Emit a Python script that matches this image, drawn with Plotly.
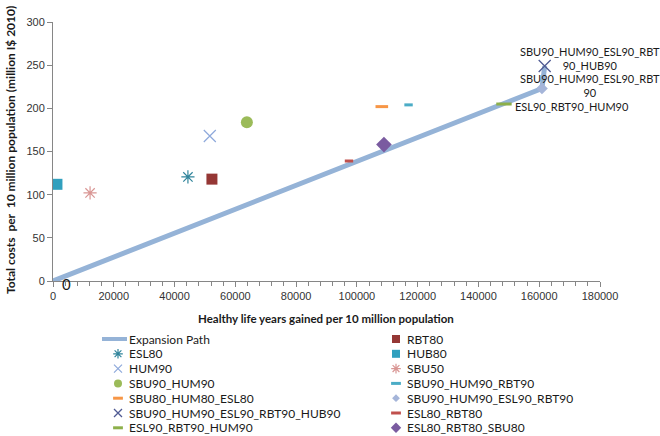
import plotly.graph_objects as go

W, H = 660, 436

# ---------------- data ----------------
path_x = [0, 148400, 160900, 161800]
path_y = [0, 205, 223, 249]

names = ["ESL80", "HUM90", "SBU90_HUM90", "SBU80_HUM80_ESL80",
         "SBU90_HUM90_ESL90_RBT90_HUB90", "ESL90_RBT90_HUM90",
         "RBT80", "HUB80", "SBU50", "SBU90_HUM90_RBT90",
         "SBU90_HUM90_ESL90_RBT90", "ESL80_RBT80", "ESL80_RBT80_SBU80"]
x_vals = [44400, 51600, 63800, 108200, 161800, 148400,
          52300, 1300, 12200, 117000, 160900, 97400, 108900]
y_vals = [120.5, 168, 184, 202, 249, 205,
          118, 112, 102, 204, 223, 139, 158]

x_ticks = [0, 20000, 40000, 60000, 80000, 100000, 120000, 140000, 160000, 180000]
y_ticks = [0, 50, 100, 150, 200, 250, 300]

# ---------------- styles ----------------
styles = {
    "ESL80": dict(symbol="asterisk-open", color="#31859C", size=11, lw=1.2),
    "HUM90": dict(symbol="x-thin-open", color="#8EA9DB", size=12, lw=1.2),
    "SBU90_HUM90": dict(symbol="circle", color="#9BBB59", size=12, lw=0),
    "SBU80_HUM80_ESL80": dict(symbol="line-ew-open", color="#F79646", size=9, lw=3),
    "SBU90_HUM90_ESL90_RBT90_HUB90": dict(symbol="x-thin-open", color="#4F5A93", size=12, lw=1.3),
    "ESL90_RBT90_HUM90": dict(symbol="line-ew-open", color="#8DB04A", size=11, lw=3),
    "RBT80": dict(symbol="square", color="#953735", size=11, lw=0),
    "HUB80": dict(symbol="square", color="#31A0BE", size=11, lw=0),
    "SBU50": dict(symbol="asterisk-open", color="#D99694", size=11, lw=1.2),
    "SBU90_HUM90_RBT90": dict(symbol="line-ew-open", color="#4BACC6", size=6, lw=3),
    "SBU90_HUM90_ESL90_RBT90": dict(symbol="diamond", color="#A5B5D9", size=9, lw=0),
    "ESL80_RBT80": dict(symbol="line-ew-open", color="#C0504D", size=6, lw=3),
    "ESL80_RBT80_SBU80": dict(symbol="diamond", color="#7A5BA0", size=12, lw=0),
}

FONT = "Lato, Liberation Sans, sans-serif"
TICKFONT = "Liberation Sans, Arial, sans-serif"
TXT = "#1a1a1a"
AXC = "#868686"

# plot rectangle in pixels
PL, PR, PT, PB = 53, 600, 22, 281

fig = go.Figure()

fig.add_trace(go.Scatter(x=path_x, y=path_y, mode="lines",
                         line=dict(color="#95B3D7", width=5),
                         name="Expansion Path", showlegend=False,
                         xaxis="x", yaxis="y"))

for n, xv, yv in zip(names, x_vals, y_vals):
    s = styles[n]
    fig.add_trace(go.Scatter(
        x=[xv], y=[yv], mode="markers", name=n, showlegend=False,
        marker=dict(symbol=s["symbol"], size=s["size"], color=s["color"],
                    line=dict(color=s["color"], width=s["lw"])),
        xaxis="x", yaxis="y"))

# ---------------- custom legend (two columns) ----------------
left_col = ["Expansion Path", "ESL80", "HUM90", "SBU90_HUM90", "SBU80_HUM80_ESL80",
            "SBU90_HUM90_ESL90_RBT90_HUB90", "ESL90_RBT90_HUM90"]
right_col = ["RBT80", "HUB80", "SBU50", "SBU90_HUM90_RBT90",
             "SBU90_HUM90_ESL90_RBT90", "ESL80_RBT80", "ESL80_RBT80_SBU80"]
row0, row_h = 339, 14.8
LEG_TOP = 326
annotations = []
for col, (entries, mx, tx) in enumerate([(left_col, 118, 127), (right_col, 396, 405)]):
    for i, n in enumerate(entries):
        yy = row0 + i * row_h
        if n == "Expansion Path":
            fig.add_trace(go.Scatter(x=[102, 127], y=[yy, yy], mode="lines",
                                     line=dict(color="#95B3D7", width=4),
                                     showlegend=False, hoverinfo="skip",
                                     xaxis="x2", yaxis="y2"))
        else:
            s = styles[n]
            sz = max(5, min(8, s["size"] - 3)) if "line" not in s["symbol"] else 7
            fig.add_trace(go.Scatter(x=[mx], y=[yy], mode="markers",
                                     marker=dict(symbol=s["symbol"], size=sz, color=s["color"],
                                                 line=dict(color=s["color"], width=max(s["lw"], 1) if s["lw"] else 0)),
                                     showlegend=False, hoverinfo="skip",
                                     xaxis="x2", yaxis="y2"))
        annotations.append(dict(x=tx, y=yy, xref="x2", yref="y2", text=n,
                                showarrow=False, xanchor="left", yanchor="middle",
                                font=dict(family=FONT, size=12, color=TXT)))

# ---------------- data labels ----------------
annotations += [
    dict(x=path_x[0], y=path_y[0], xref="x", yref="y", text="0", showarrow=False,
         xshift=13, yshift=-3, font=dict(family=FONT, size=15, color=TXT)),
    dict(x=x_vals[4], y=y_vals[4], xref="x", yref="y",
         text="SBU90_HUM90_ESL90_RBT<br>90_HUB90", showarrow=False,
         xshift=45, yshift=8, align="center",
         font=dict(family=FONT, size=11, color=TXT)),
    dict(x=x_vals[10], y=y_vals[10], xref="x", yref="y",
         text="SBU90_HUM90_ESL90_RBT<br>90", showarrow=False,
         xshift=48, yshift=3, align="center",
         font=dict(family=FONT, size=11, color=TXT)),
    dict(x=x_vals[5], y=y_vals[5], xref="x", yref="y",
         text="ESL90_RBT90_HUM90", showarrow=False, xanchor="left",
         xshift=9, yshift=-2,
         font=dict(family=FONT, size=11, color=TXT)),
    # axis titles
    dict(x=326 / W, y=1 - 318 / H, xref="paper", yref="paper",
         text="<b>Healthy life years gained per 10 million population</b>",
         showarrow=False, xanchor="center", yanchor="middle",
         font=dict(family=FONT, size=11.5, color=TXT)),
    dict(x=10 / W, y=1 - 150 / H, xref="paper", yref="paper", textangle=-90,
         text="<b>Total costs  per  10 million population (million I$ 2010)</b>",
         showarrow=False, xanchor="center", yanchor="middle",
         font=dict(family=FONT, size=12, color=TXT)),
]

fig.update_layout(
    width=W, height=H,
    margin=dict(l=0, r=0, t=0, b=0),
    paper_bgcolor="white", plot_bgcolor="rgba(0,0,0,0)",
    showlegend=False,
    xaxis=dict(domain=[PL / W, PR / W], range=[0, 180000], tickvals=x_ticks,
               ticktext=[str(v) for v in x_ticks],
               showgrid=False, zeroline=False, showline=True, linecolor=AXC, linewidth=1,
               ticks="outside", ticklen=5, tickcolor=AXC,
               minor=dict(dtick=4000, ticks="outside", ticklen=4, tickcolor=AXC, showgrid=False),
               tickfont=dict(family=TICKFONT, size=11, color="#333333"),
               automargin=False, fixedrange=True),
    yaxis=dict(domain=[1 - PB / H, 1 - PT / H], range=[0, 300], tickvals=y_ticks,
               showgrid=False, zeroline=False, showline=True, linecolor=AXC, linewidth=1,
               ticks="outside", ticklen=5, tickcolor=AXC,
               tickfont=dict(family=TICKFONT, size=11, color="#333333"),
               automargin=False, fixedrange=True),
    xaxis2=dict(domain=[0, 1], range=[0, W], visible=False, fixedrange=True, anchor="y2"),
    yaxis2=dict(domain=[0, 1 - LEG_TOP / H], range=[H, LEG_TOP], visible=False,
                fixedrange=True, anchor="x2"),
    annotations=annotations,
)

fig.write_html("out.html", config={"displayModeBar": False},
               post_script="document.body.style.margin='0';document.body.style.padding='0';")
